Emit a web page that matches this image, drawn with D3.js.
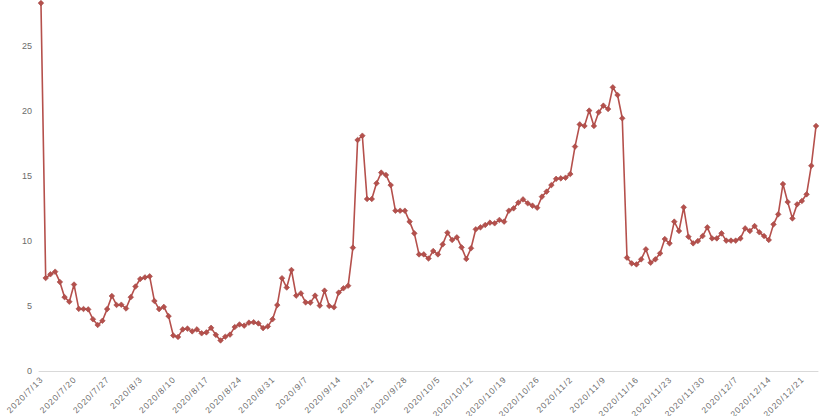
<!DOCTYPE html>
<html>
<head>
<meta charset="utf-8">
<script src="https://cdn.jsdelivr.net/npm/d3@7/dist/d3.min.js"></script>
<style>
html,body{margin:0;padding:0;background:#fff;}
svg{display:block;}
</style>
</head>
<body>
<svg id="chart" width="833" height="416"></svg>
<script>
const startDate = "2020-07-13";
const values = [
28.3,7.15,7.44,7.64,6.85,5.68,5.33,
6.65,4.78,4.77,4.74,3.98,3.54,3.86,
4.76,5.77,5.08,5.1,4.81,5.68,6.5,
7.08,7.2,7.28,5.39,4.76,4.93,4.22,
2.73,2.62,3.2,3.26,3.05,3.2,2.9,
2.97,3.32,2.78,2.35,2.64,2.8,3.38,
3.58,3.49,3.72,3.75,3.66,3.3,3.43,
3.98,5.07,7.14,6.42,7.77,5.8,5.97,
5.28,5.26,5.8,5.03,6.18,5.0,4.9,
6.03,6.36,6.56,9.49,17.77,18.1,13.23,
13.23,14.44,15.26,15.08,14.3,12.33,12.33,
12.33,11.49,10.59,8.97,8.97,8.65,9.23,
8.97,9.74,10.64,10.08,10.28,9.51,8.62,
9.44,10.9,11.05,11.23,11.41,11.36,11.62,
11.49,12.33,12.51,12.95,13.2,12.9,12.72,
12.56,13.41,13.8,14.3,14.78,14.82,14.87,
15.15,17.26,18.97,18.85,20.03,18.85,19.9,
20.41,20.15,21.82,21.23,19.44,8.72,8.28,
8.2,8.59,9.36,8.33,8.59,9.05,10.15,
9.82,11.49,10.77,12.59,10.33,9.82,10.0,
10.38,11.05,10.2,10.2,10.59,10.03,10.03,
10.03,10.2,10.97,10.77,11.15,10.67,10.38,
10.08,11.28,12.05,14.38,13.0,11.74,12.82,
13.08,13.59,15.79,18.85
];
const tickLabels = ["2020/7/13","2020/7/20","2020/7/27","2020/8/3","2020/8/10","2020/8/17","2020/8/24","2020/8/31","2020/9/7","2020/9/14","2020/9/21","2020/9/28","2020/10/5","2020/10/12","2020/10/19","2020/10/26","2020/11/2","2020/11/9","2020/11/16","2020/11/23","2020/11/30","2020/12/7","2020/12/14","2020/12/21"];
const yTicks = [0,5,10,15,20,25];

const svg = d3.select("#chart");
const x0 = 38.6, x1 = 818.4, yBase = 371, pxPerUnit = 13;
const idx = d3.range(values.length);
const x = d3.scaleBand().domain(idx).range([x0, x1]).padding(0);
const cx = i => x(i) + x.bandwidth()/2;
const y = d3.scaleLinear().domain([0, 30]).range([yBase, yBase - 30*pxPerUnit]);

// y axis labels
const yAxis = d3.axisLeft(y).tickValues(yTicks).tickSize(0).tickPadding(0);
const gy = svg.append("g").attr("transform", "translate(32,0)").call(yAxis);
gy.select(".domain").remove();
gy.selectAll("text").attr("fill", "#6b6b6b").style("font-family", "'Liberation Sans', Arial, sans-serif").style("font-size", "9px").attr("dy", "0.32em");

// x axis
const tickIdx = tickLabels.map((d, k) => k*7);
const xAxis = d3.axisBottom(x).tickValues(tickIdx).tickFormat((d, k) => tickLabels[k]).tickSize(0).tickPadding(0);
const gx = svg.append("g").attr("transform", `translate(0,${yBase})`).call(xAxis);
gx.select(".domain").attr("stroke", "#d9d9d9").attr("stroke-width", 1.2).attr("d", `M${x0},0.5H${x1}`);
gx.selectAll(".tick").attr("transform", d => `translate(${cx(d)},0)`);
gx.selectAll("text")
  .attr("fill", "#6b6b6b")
  .style("font-family", "'Liberation Sans', Arial, sans-serif")
  .style("font-size", "8.5px")
  .style("letter-spacing", "1.1px")
  .attr("text-anchor", "end")
  .attr("dy", 0)
  .attr("y", 0)
  .attr("transform", "translate(3,9) rotate(-45)");

// line
const line = d3.line().x((d, i) => cx(i)).y(d => y(d));
svg.append("path").datum(values)
  .attr("fill", "none")
  .attr("stroke", "#b5504c")
  .attr("stroke-width", 1.6)
  .attr("stroke-linejoin", "round")
  .attr("d", line);

// markers
const r = 2.8;
svg.append("g").selectAll("path").data(values).join("path")
  .attr("transform", (d, i) => `translate(${cx(i)},${y(d)})`)
  .attr("d", `M0,${-r}L${r},0L0,${r}L${-r},0Z`)
  .attr("fill", "#b5504c")
  .attr("stroke", "#a14844")
  .attr("stroke-width", 0.6);
</script>
</body>
</html>
